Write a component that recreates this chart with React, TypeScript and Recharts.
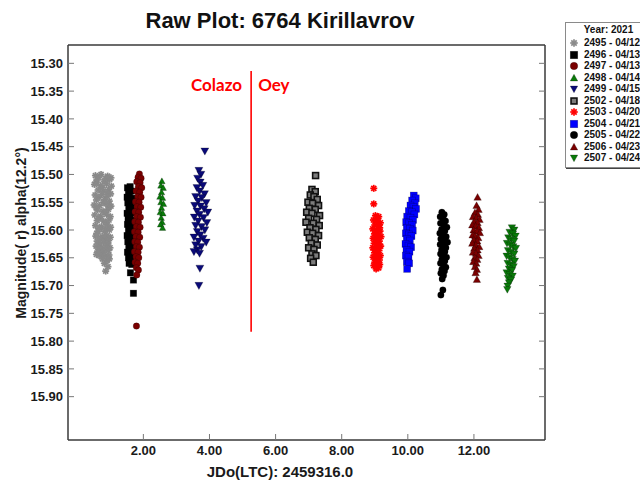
import React from 'react';
import { ScatterChart, Scatter, XAxis, YAxis, ReferenceLine, ReferenceDot, Label } from 'recharts';

// ---------- data ----------
const xTicks = [2, 4, 6, 8, 10, 12];
const yTicks = [15.3, 15.35, 15.4, 15.45, 15.5, 15.55, 15.6, 15.65, 15.7, 15.75, 15.8, 15.85, 15.9];

const seriesNames = [
  '2495 - 04/12', '2496 - 04/13', '2497 - 04/13', '2498 - 04/14', '2499 - 04/15',
  '2502 - 04/18', '2503 - 04/20', '2504 - 04/21', '2505 - 04/22', '2506 - 04/23', '2507 - 04/24',
];
const seriesColors = ['#8a8a8a', '#000000', '#7a0000', '#0a7a0a', '#0a0a78', '#7c7c7c', '#ff0000', '#0000ff', '#000000', '#7a0000', '#0a7a0a'];
const seriesShapes = ['star', 'square', 'circle', 'tri', 'triDown', 'boxed', 'star', 'square', 'circle', 'tri', 'triDown'];

const s2495 = [
  [0.55, 15.502], [0.72, 15.5], [0.92, 15.503], [1.02, 15.506], [0.65, 15.505], [0.86, 15.507],
  [0.6, 15.51], [0.81, 15.512], [0.98, 15.509], [0.57, 15.514],
  [0.52, 15.518], [0.7, 15.52], [0.88, 15.517], [1.03, 15.521], [0.76, 15.524],
  [0.63, 15.528], [0.79, 15.53], [0.95, 15.527], [0.93, 15.533],
  [0.54, 15.537], [0.74, 15.536], [0.9, 15.539], [1.01, 15.535], [0.66, 15.541],
  [0.58, 15.546], [0.83, 15.545], [0.97, 15.548], [0.78, 15.55],
  [0.51, 15.555], [0.68, 15.556], [0.87, 15.553], [1.02, 15.557], [0.95, 15.558], [0.57, 15.56],
  [0.62, 15.564], [0.78, 15.566], [0.94, 15.563], [0.85, 15.568],
  [0.53, 15.573], [0.71, 15.575], [0.89, 15.572], [1.0, 15.576], [0.66, 15.579],
  [0.6, 15.583], [0.8, 15.584], [0.96, 15.582], [0.87, 15.587],
  [0.55, 15.592], [0.73, 15.594], [0.91, 15.591], [1.01, 15.595], [0.67, 15.597], [0.86, 15.598],
  [0.63, 15.602], [0.82, 15.603], [0.97, 15.6], [0.59, 15.606],
  [0.56, 15.611], [0.75, 15.612], [0.9, 15.61], [1.0, 15.613], [0.69, 15.616], [0.86, 15.616],
  [0.6, 15.62], [0.79, 15.622], [0.95, 15.619], [0.66, 15.625], [0.93, 15.625],
  [0.57, 15.629], [0.74, 15.631], [0.88, 15.628], [0.99, 15.632], [0.68, 15.635], [0.87, 15.634],
  [0.62, 15.638], [0.8, 15.64], [0.94, 15.637], [0.74, 15.643], [0.58, 15.644],
  [0.66, 15.646], [0.84, 15.647], [0.96, 15.645], [0.76, 15.652], [0.97, 15.652],
  [0.9, 15.655], [0.82, 15.66], [0.93, 15.666], [0.86, 15.674],
];
const s2496 = [
  [1.52, 15.524], [1.6, 15.522], [1.55, 15.532], [1.63, 15.53], [1.51, 15.541], [1.58, 15.54], [1.66, 15.543],
  [1.53, 15.551], [1.61, 15.552], [1.56, 15.561], [1.64, 15.56], [1.51, 15.57], [1.59, 15.571], [1.67, 15.569],
  [1.54, 15.58], [1.62, 15.582], [1.52, 15.59], [1.6, 15.591], [1.66, 15.593], [1.55, 15.6], [1.63, 15.602],
  [1.51, 15.61], [1.58, 15.611], [1.65, 15.612], [1.53, 15.621], [1.61, 15.622], [1.56, 15.631], [1.64, 15.63],
  [1.52, 15.64], [1.6, 15.641], [1.67, 15.643], [1.55, 15.65], [1.62, 15.652], [1.57, 15.66], [1.65, 15.662],
  [1.57, 15.546], [1.55, 15.586], [1.57, 15.616], [1.58, 15.646],
  [1.61, 15.677], [1.7, 15.69], [1.7, 15.714],
];
const s2497 = [
  [1.88, 15.499], [1.84, 15.505], [1.93, 15.507], [1.8, 15.513], [1.9, 15.515], [1.85, 15.522], [1.95, 15.524],
  [1.78, 15.53], [1.89, 15.532], [1.83, 15.54], [1.93, 15.541], [1.76, 15.549], [1.87, 15.55], [1.81, 15.558],
  [1.92, 15.559], [1.75, 15.567], [1.86, 15.568], [1.8, 15.576], [1.91, 15.577], [1.74, 15.585], [1.85, 15.586],
  [1.79, 15.594], [1.9, 15.595], [1.73, 15.603], [1.84, 15.604], [1.78, 15.612], [1.89, 15.613], [1.74, 15.621],
  [1.83, 15.622], [1.79, 15.63], [1.88, 15.631], [1.73, 15.639], [1.84, 15.64], [1.78, 15.648], [1.86, 15.65],
  [1.75, 15.658], [1.83, 15.66], [1.79, 15.668], [1.85, 15.672], [1.8, 15.681], [1.79, 15.773],
];
const s2498 = [
  [2.56, 15.512], [2.53, 15.52], [2.6, 15.524], [2.55, 15.532], [2.5, 15.54], [2.58, 15.542], [2.53, 15.55],
  [2.61, 15.553], [2.55, 15.56], [2.51, 15.568], [2.59, 15.57], [2.54, 15.578], [2.57, 15.586], [2.52, 15.59],
  [2.58, 15.596],
];
const s2499 = [
  [3.86, 15.458], [3.68, 15.493], [3.74, 15.5], [3.64, 15.507], [3.72, 15.514], [3.8, 15.52], [3.62, 15.524],
  [3.7, 15.53], [3.85, 15.535], [3.58, 15.54], [3.77, 15.542], [3.66, 15.548], [3.9, 15.551], [3.55, 15.556],
  [3.73, 15.557], [3.84, 15.562], [3.62, 15.566], [3.95, 15.568], [3.7, 15.572], [3.54, 15.577], [3.82, 15.578],
  [3.66, 15.584], [3.92, 15.587], [3.58, 15.592], [3.76, 15.594], [3.86, 15.6], [3.63, 15.603], [3.72, 15.609],
  [3.53, 15.613], [3.81, 15.615], [3.67, 15.62], [3.9, 15.622], [3.58, 15.627], [3.75, 15.63], [3.63, 15.636],
  [3.53, 15.639], [3.7, 15.642], [3.71, 15.669], [3.68, 15.7],
];
const s2502 = [
  [7.21, 15.502], [7.1, 15.527], [7.2, 15.531], [7.05, 15.537], [7.16, 15.54], [7.26, 15.545], [6.98, 15.55],
  [7.12, 15.552], [7.3, 15.556], [7.02, 15.561], [7.2, 15.563], [6.94, 15.568], [7.1, 15.57], [7.33, 15.574],
  [7.0, 15.579], [7.24, 15.581], [6.92, 15.586], [7.14, 15.588], [7.32, 15.592], [7.04, 15.596], [7.22, 15.599],
  [6.96, 15.604], [7.12, 15.606], [7.3, 15.61], [7.02, 15.614], [7.2, 15.617], [7.08, 15.624], [7.26, 15.627],
  [7.0, 15.632], [7.16, 15.635], [7.1, 15.643], [7.22, 15.646], [7.06, 15.651], [7.14, 15.658],
];
const s2503 = [
  [8.97, 15.525], [8.97, 15.553], [9.02, 15.574], [9.12, 15.576], [8.96, 15.582], [9.07, 15.584], [9.17, 15.587],
  [9.0, 15.591], [9.11, 15.593], [8.94, 15.598], [9.05, 15.6], [9.16, 15.602], [8.99, 15.607], [9.1, 15.609],
  [9.19, 15.612], [8.95, 15.615], [9.04, 15.617], [9.14, 15.62], [8.98, 15.624], [9.09, 15.626], [9.18, 15.629],
  [8.94, 15.632], [9.03, 15.634], [9.13, 15.637], [8.99, 15.641], [9.08, 15.643], [9.17, 15.646], [8.95, 15.649],
  [9.05, 15.651], [9.14, 15.654], [9.0, 15.658], [9.1, 15.66], [8.97, 15.664], [9.06, 15.667],
  [9.07, 15.579], [9.15, 15.596], [9.02, 15.604], [9.09, 15.614], [9.08, 15.62], [9.12, 15.63], [9.0, 15.636],
  [9.12, 15.648], [9.02, 15.655], [9.15, 15.662], [9.04, 15.67], [9.12, 15.668],
];
const s2504 = [
  [10.18, 15.538], [10.24, 15.543], [10.13, 15.547], [10.21, 15.552], [10.08, 15.556], [10.17, 15.559],
  [10.25, 15.562], [10.03, 15.566], [10.12, 15.568], [10.2, 15.572], [9.98, 15.576], [10.08, 15.578],
  [10.16, 15.582], [9.95, 15.586], [10.04, 15.588], [10.13, 15.591], [9.97, 15.596], [10.07, 15.598],
  [10.15, 15.601], [9.94, 15.606], [10.03, 15.608], [10.11, 15.611], [9.97, 15.616], [10.06, 15.619],
  [9.93, 15.625], [10.02, 15.628], [10.1, 15.631], [9.96, 15.636], [10.05, 15.639], [9.94, 15.646],
  [10.02, 15.649], [9.97, 15.657], [10.04, 15.66], [9.98, 15.67],
];
const s2505 = [
  [11.03, 15.568], [11.1, 15.572], [10.98, 15.576], [11.07, 15.58], [11.14, 15.584], [10.99, 15.588],
  [11.09, 15.591], [11.18, 15.595], [11.02, 15.599], [11.12, 15.602], [10.97, 15.606], [11.06, 15.609],
  [11.16, 15.612], [11.0, 15.616], [11.1, 15.619], [11.2, 15.622], [10.98, 15.626], [11.07, 15.629],
  [11.15, 15.632], [11.02, 15.636], [11.12, 15.639], [10.99, 15.643], [11.08, 15.646], [11.17, 15.649],
  [11.03, 15.653], [11.12, 15.656], [10.99, 15.66], [11.08, 15.663], [11.15, 15.667], [11.03, 15.671],
  [11.11, 15.674], [11.0, 15.678], [11.08, 15.682], [11.04, 15.688], [11.06, 15.708], [11.0, 15.717],
];
const s2506 = [
  [12.11, 15.541], [12.08, 15.556], [12.14, 15.563], [12.03, 15.569], [12.12, 15.572], [11.97, 15.576],
  [12.07, 15.578], [12.17, 15.581], [12.01, 15.585], [12.11, 15.587], [11.95, 15.591], [12.05, 15.593],
  [12.15, 15.596], [11.99, 15.6], [12.09, 15.602], [12.18, 15.605], [11.96, 15.609], [12.04, 15.611],
  [12.13, 15.614], [12.0, 15.618], [12.1, 15.62], [11.95, 15.624], [12.06, 15.627], [12.16, 15.63],
  [12.01, 15.633], [12.11, 15.636], [11.97, 15.64], [12.06, 15.642], [12.14, 15.646], [12.02, 15.65],
  [12.1, 15.653], [11.98, 15.657], [12.07, 15.66], [12.03, 15.666], [12.09, 15.671], [12.05, 15.677],
  [12.09, 15.689],
];
const s2507 = [
  [13.15, 15.596], [13.22, 15.6], [13.08, 15.604], [13.18, 15.607], [13.26, 15.611], [13.04, 15.614],
  [13.13, 15.617], [13.22, 15.62], [13.0, 15.624], [13.1, 15.627], [13.19, 15.63], [13.27, 15.633],
  [13.03, 15.637], [13.13, 15.64], [13.22, 15.643], [12.99, 15.647], [13.08, 15.65], [13.17, 15.653],
  [13.24, 15.656], [13.02, 15.66], [13.12, 15.663], [13.2, 15.666], [13.06, 15.67], [13.15, 15.673],
  [12.99, 15.677], [13.09, 15.68], [13.17, 15.683], [13.03, 15.687], [13.12, 15.69], [13.06, 15.695],
  [13.02, 15.701], [13.01, 15.707],
];

const observerX = 5.26;
const observerLine = [15.314, 15.783];
const observerLabelY = 15.339;
const observerLeft = 'Colazo';
const observerRight = 'Oey';

const titleText = 'Raw Plot: 6764 Kirillavrov';
const xLabel = 'JDo(LTC): 2459316.0';
const yLabel = 'Magnitude( r) alpha(12.2°)';
const legendTitle = 'Year: 2021';

// ---------- rendering ----------
const allSeries = [s2495, s2496, s2497, s2498, s2499, s2502, s2503, s2504, s2505, s2506, s2507];
const markerSizes = [7, 6.5, 6.5, 6.5, 8, 7.5, 7, 7, 6.5, 7.5, 7.5];
const toPts = (a: number[][]) => a.map(([x, y]) => ({ x, y }));

const FONT = "'Liberation Sans', Arial, Helvetica, sans-serif";

function Marker({ shape, cx, cy, s, color }: { shape: string; cx: number; cy: number; s: number; color: string }) {
  const h = s / 2;
  if (shape === 'star') {
    const d = h * 0.72;
    return (
      <g stroke={color} strokeWidth={1.7}>
        <line x1={cx - h} y1={cy} x2={cx + h} y2={cy} />
        <line x1={cx} y1={cy - h} x2={cx} y2={cy + h} />
        <line x1={cx - d} y1={cy - d} x2={cx + d} y2={cy + d} />
        <line x1={cx - d} y1={cy + d} x2={cx + d} y2={cy - d} />
      </g>
    );
  }
  if (shape === 'square') {
    return <rect x={cx - h} y={cy - h} width={s} height={s} fill={color} stroke="#000" strokeOpacity={0.35} strokeWidth={0.6} />;
  }
  if (shape === 'boxed') {
    return <rect x={cx - h + 0.8} y={cy - h + 0.8} width={s - 1.6} height={s - 1.6} fill={color} stroke="#111" strokeWidth={1.6} />;
  }
  if (shape === 'circle') {
    return <circle cx={cx} cy={cy} r={h} fill={color} stroke="#000" strokeOpacity={0.35} strokeWidth={0.6} />;
  }
  if (shape === 'tri') {
    return (
      <polygon
        points={`${cx},${cy - h} ${cx + h},${cy + h * 0.8} ${cx - h},${cy + h * 0.8}`}
        fill={color}
        stroke="#000"
        strokeOpacity={0.4}
        strokeWidth={0.6}
      />
    );
  }
  return (
    <polygon
      points={`${cx - h},${cy - h * 0.8} ${cx + h},${cy - h * 0.8} ${cx},${cy + h}`}
      fill={color}
      stroke="#000"
      strokeOpacity={0.4}
      strokeWidth={0.6}
    />
  );
}

const tickStyle = { fill: '#1a1a1a', fontSize: 13, fontWeight: 'bold' as const, fontFamily: FONT };

function LegendBox() {
  const rowTop = (c: number) => c - 22 - 6;
  return (
    <div
      style={{
        position: 'absolute',
        left: 565,
        top: 22,
        width: 85,
        height: 146,
        border: '1px solid #8a8a8a',
        boxShadow: '1px 1px 0 #444',
        background: '#fff',
        fontFamily: FONT,
        fontWeight: 'bold',
        fontSize: 10,
        color: '#111',
        boxSizing: 'border-box',
      }}
    >
      <div style={{ position: 'absolute', left: 0, width: 85, top: rowTop(29.3), height: 12, lineHeight: '12px', textAlign: 'center' }}>
        {legendTitle}
      </div>
      {seriesNames.map((n, i) => (
        <div key={n} style={{ position: 'absolute', left: 0, top: rowTop(42.3 + i * 11.5), height: 12, width: 85, lineHeight: '12px', whiteSpace: 'nowrap' }}>
          <svg width={12} height={12} style={{ position: 'absolute', left: 2, top: 0 }}>
            <Marker shape={seriesShapes[i]} cx={6} cy={6} s={7.5} color={seriesColors[i]} />
          </svg>
          <span style={{ position: 'absolute', left: 18, top: 0 }}>{n}</span>
        </div>
      ))}
    </div>
  );
}

export default function App() {
  return (
    <div style={{ position: 'absolute', left: 0, top: 0, width: 640, height: 481, overflow: 'hidden', background: '#fff' }}>
      <ScatterChart width={640} height={481} margin={{ top: 44, right: 94, bottom: 0, left: 0 }}>
        <XAxis
          type="number"
          dataKey="x"
          domain={[-0.28, 14.15]}
          ticks={xTicks}
          interval={0}
          allowDataOverflow
          height={41}
          tickSize={-6}
          tickMargin={12}
          tickFormatter={(v: number) => v.toFixed(2)}
          axisLine={{ stroke: '#3a3a3a', strokeWidth: 1.5 }}
          tickLine={{ stroke: '#777' }}
          tick={tickStyle}
        >
          <Label
            content={() => (
              <text x={280} y={477} textAnchor="middle" fontFamily={FONT} fontWeight="bold" fontSize={15} fill="#1a1a1a">
                {xLabel}
              </text>
            )}
          />
        </XAxis>
        <XAxis
          xAxisId="top"
          orientation="top"
          type="number"
          domain={[-0.28, 14.15]}
          ticks={xTicks}
          interval={0}
          allowDataOverflow
          height={1}
          tickSize={-6}
          tickFormatter={() => ''}
          axisLine={{ stroke: '#3a3a3a', strokeWidth: 1.5 }}
          tickLine={{ stroke: '#777' }}
        >
          <Label
            content={() => (
              <text x={280} y={28} textAnchor="middle" fontFamily={FONT} fontWeight="bold" fontSize={22} fill="#111">
                {titleText}
              </text>
            )}
          />
        </XAxis>
        <YAxis
          type="number"
          dataKey="y"
          domain={[15.267, 15.978]}
          reversed
          ticks={yTicks}
          interval={0}
          allowDataOverflow
          width={68}
          tickSize={-6}
          tickMargin={11}
          tickFormatter={(v: number) => v.toFixed(2)}
          axisLine={{ stroke: '#3a3a3a', strokeWidth: 1.5 }}
          tickLine={{ stroke: '#777' }}
          tick={tickStyle}
        >
          <Label
            content={() => (
              <text
                x={21}
                y={233}
                transform="rotate(-90, 21, 233)"
                textAnchor="middle"
                dominantBaseline="central"
                fontFamily={FONT}
                fontWeight="bold"
                fontSize={14}
                fill="#1a1a1a"
              >
                {yLabel}
              </text>
            )}
          />
        </YAxis>
        <YAxis
          yAxisId="right"
          orientation="right"
          type="number"
          domain={[15.267, 15.978]}
          reversed
          ticks={yTicks}
          interval={0}
          allowDataOverflow
          width={1}
          tickSize={-6}
          tickFormatter={() => ''}
          axisLine={{ stroke: '#3a3a3a', strokeWidth: 1.5 }}
          tickLine={{ stroke: '#777' }}
        />
        {allSeries.map((s, i) => (
          <Scatter
            key={seriesNames[i]}
            name={seriesNames[i]}
            data={toPts(s)}
            isAnimationActive={false}
            shape={(p: any) => <Marker shape={seriesShapes[i]} cx={p.cx} cy={p.cy} s={markerSizes[i]} color={seriesColors[i]} />}
          />
        ))}
        <ReferenceLine
          segment={[
            { x: observerX, y: observerLine[0] },
            { x: observerX, y: observerLine[1] },
          ]}
          stroke="#ff0000"
          strokeWidth={1.6}
        />
        <ReferenceDot x={observerX} y={observerLabelY} r={0} fill="none" stroke="none">
          <Label value={observerLeft} position="left" offset={9} fill="#ff0000" fontSize={17} fontWeight="bold" fontFamily="Lato, 'Liberation Sans', sans-serif" />
        </ReferenceDot>
        <ReferenceDot x={observerX} y={observerLabelY} r={0} fill="none" stroke="none">
          <Label value={observerRight} position="right" offset={7} fill="#ff0000" fontSize={17} fontWeight="bold" fontFamily="Lato, 'Liberation Sans', sans-serif" />
        </ReferenceDot>
      </ScatterChart>
      <LegendBox />
    </div>
  );
}
